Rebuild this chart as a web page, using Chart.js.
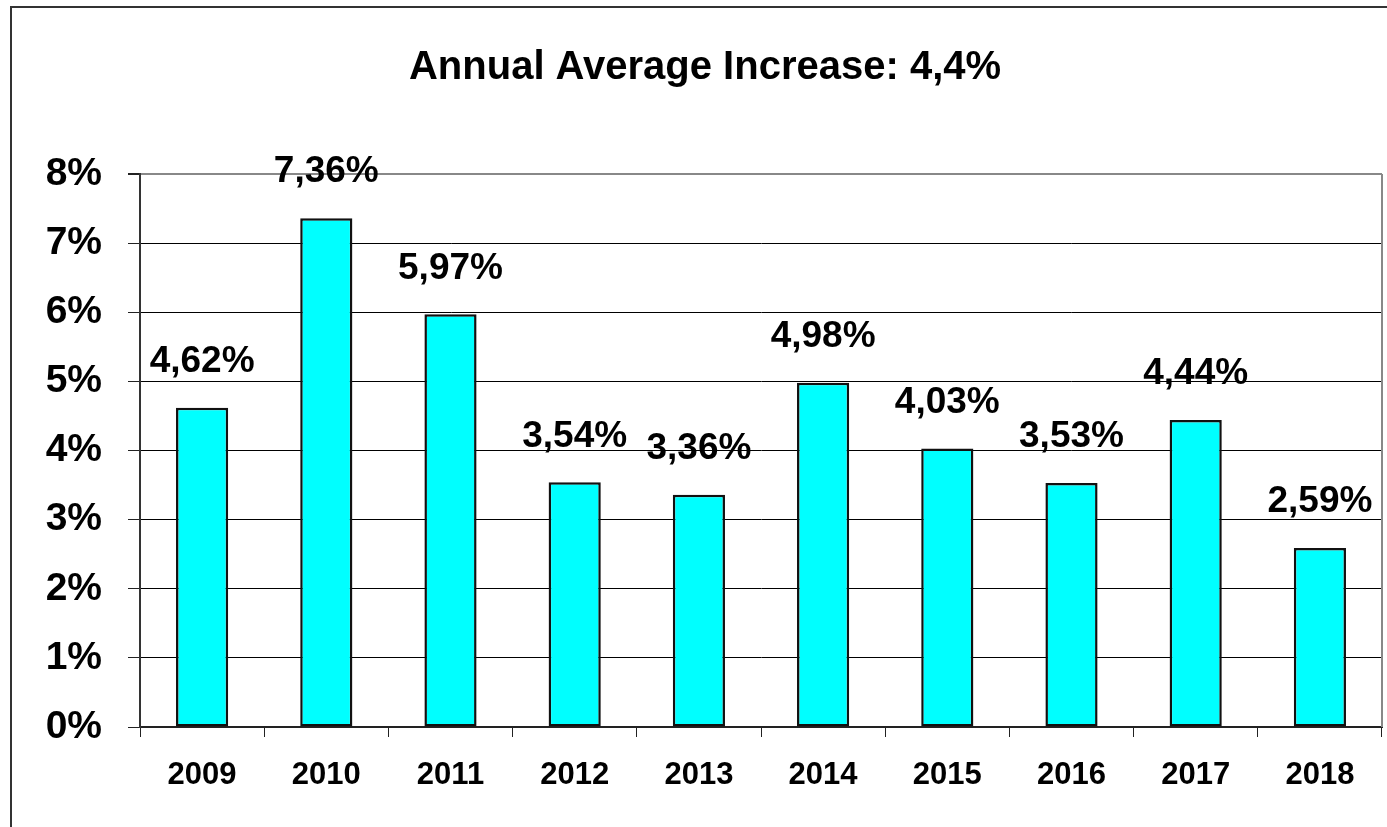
<!DOCTYPE html>
<html>
<head>
<meta charset="utf-8">
<script src="https://cdn.jsdelivr.net/npm/chart.js@4/dist/chart.umd.min.js"></script>
<style>
  body { margin: 0; background: #fff; }
  #wrap { width: 1387px; height: 827px; }
</style>
</head>
<body>
<div id="wrap"><canvas id="increaseChart" width="1387" height="827"></canvas></div>
<script>
const years = ["2009", "2010", "2011", "2012", "2013", "2014", "2015", "2016", "2017", "2018"];
const increase = [4.62, 7.36, 5.97, 3.54, 3.36, 4.98, 4.03, 3.53, 4.44, 2.59];
const chartTitle = "Annual Average Increase: 4,4%";

const FONT = '"Liberation Sans", Arial, sans-serif';

// frame round the picture + title + right edge of the plot area
const framePlugin = {
    id: 'frame',
    afterDraw(chart) {
        const c = chart.ctx;
        const area = chart.chartArea;
        c.save();
        c.strokeStyle = '#333';
        c.lineWidth = 2;
        c.strokeRect(11, 7, 1500, 1000);

        c.strokeStyle = '#888';
        c.lineWidth = 2;
        c.beginPath();
        c.moveTo(area.right, area.top);
        c.lineTo(area.right, area.bottom);
        c.stroke();

        c.fillStyle = '#000';
        c.font = 'bold 40px ' + FONT;
        c.textAlign = 'center';
        c.textBaseline = 'middle';
        c.fillText(chartTitle, 705, 68);
        c.restore();
    }
};

// value labels above the bars
const labelPlugin = {
    id: 'barLabels',
    afterDatasetsDraw(chart) {
        const c = chart.ctx;
        const meta = chart.getDatasetMeta(0);
        c.save();
        c.fillStyle = '#000';
        c.font = 'bold 37px ' + FONT;
        c.textAlign = 'center';
        c.textBaseline = 'middle';
        meta.data.forEach((bar, i) => {
            const txt = increase[i].toFixed(2).replace('.', ',') + '%';
            c.fillText(txt, bar.x, bar.y - 46);
        });
        c.restore();
    }
};

const ctx = document.getElementById('increaseChart').getContext('2d');
new Chart(ctx, {
    type: 'bar',
    data: {
        labels: years,
        datasets: [{
            data: increase,
            backgroundColor: '#00FFFF',
            borderColor: '#111',
            borderWidth: 2.5,
            borderSkipped: false,
            categoryPercentage: 1,
            barPercentage: 0.42
        }]
    },
    options: {
        responsive: false,
        animation: false,
        devicePixelRatio: 1,
        layout: { padding: { top: 174, right: 5, left: 0, bottom: 0 } },
        plugins: {
            legend: { display: false },
            title: { display: false },
            tooltip: { enabled: false }
        },
        scales: {
            x: {
                afterFit(scale) { scale.height = 100; },
                grid: {
                    offset: true,
                    drawOnChartArea: false,
                    drawTicks: true,
                    tickLength: 10,
                    color: '#222',
                    lineWidth: 1
                },
                border: { color: '#222', width: 2 },
                ticks: {
                    padding: 20,
                    color: '#000',
                    font: { family: FONT, size: 31, weight: 'bold' }
                }
            },
            y: {
                min: 0,
                max: 8,
                afterFit(scale) { scale.width = 140; },
                grid: {
                    color: (c) => c.tick && c.tick.value === 8 ? '#888' : '#000',
                    lineWidth: (c) => c.tick && c.tick.value === 8 ? 2 : 1,
                    tickLength: 12,
                    tickColor: '#222'
                },
                border: { color: '#333', width: 2 },
                ticks: {
                    stepSize: 1,
                    padding: 26,
                    color: '#000',
                    font: { family: FONT, size: 39, weight: 'bold' },
                    callback: (v) => v + '%'
                }
            }
        }
    },
    plugins: [framePlugin, labelPlugin]
});
</script>
</body>
</html>
